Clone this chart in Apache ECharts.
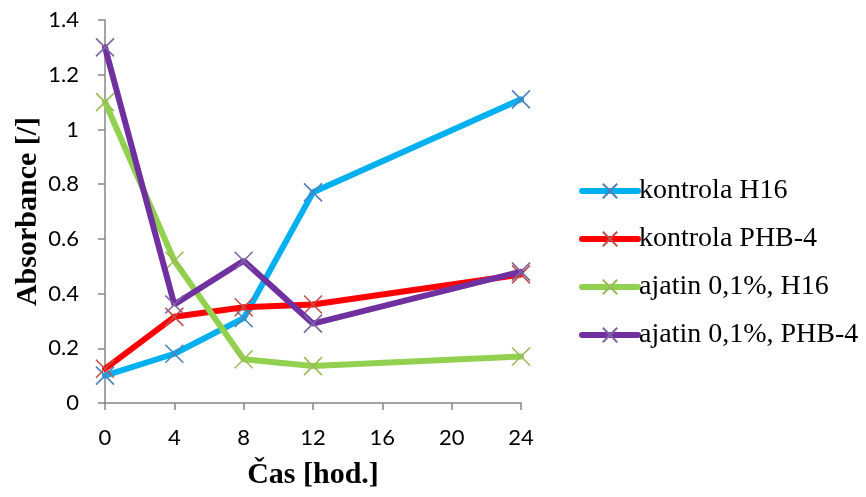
<!DOCTYPE html>
<html>
<head>
<meta charset="utf-8">
<script src="https://cdn.jsdelivr.net/npm/echarts@6/dist/echarts.min.js"></script>
<style>
  html, body { margin: 0; padding: 0; background: #fff; }
  #chart { width: 866px; height: 497px; }
</style>
</head>
<body>
<div id="chart"></div>
<script>
// Sampling times [h]
const hours = [0, 4, 8, 12, 24];

// Absorbance readings per culture
const kontrolaH16 = [0.10, 0.18, 0.31, 0.77, 1.11];
const kontrolaPHB4 = [0.125, 0.315, 0.35, 0.36, 0.47];
const ajatinH16 = [1.10, 0.52, 0.16, 0.135, 0.17];
const ajatinPHB4 = [1.30, 0.36, 0.52, 0.29, 0.48];

const seriesNames = ['kontrola H16', 'kontrola PHB-4', 'ajatin 0,1%, H16', 'ajatin 0,1%, PHB-4'];
const seriesValues = [kontrolaH16, kontrolaPHB4, ajatinH16, ajatinPHB4];
const lineColors = ['#00B0F0', '#FF0000', '#92D050', '#7030A0'];
const markerColors = ['#4F81BD', '#C0504D', '#9BBB59', '#8064A2'];

const crossSymbol = 'path://M0,0L10,10M10,0L0,10';

const chart = echarts.init(document.getElementById('chart'));

const series = seriesNames.map((name, i) => ({
  name: name,
  type: 'line',
  data: hours.map((h, j) => [h, seriesValues[i][j]]),
  symbol: crossSymbol,
  symbolSize: 18,
  showAllSymbol: true,
  lineStyle: { color: lineColors[i], width: 6, cap: 'round' },
  itemStyle: { color: 'rgba(0,0,0,0)', borderColor: markerColors[i], borderWidth: 1.6 },
  emphasis: { disabled: true },
  z: 2 + i
}));

chart.setOption({
  animation: false,
  grid: { left: 105, right: 345, top: 20, bottom: 94, containLabel: false },
  legend: {
    orient: 'vertical',
    left: 574,
    top: 172,
    itemGap: 20,
    itemWidth: 56,
    itemHeight: 18,
    lineStyle: { width: 6, cap: 'round' },
    textStyle: { fontFamily: 'Liberation Serif', fontSize: 28, lineHeight: 28, color: '#000', padding: [0, 0, 0, -4] },
    data: seriesNames
  },
  xAxis: {
    type: 'value',
    min: 0,
    max: 24,
    interval: 4,
    name: 'Čas [hod.]',
    nameLocation: 'middle',
    nameGap: 57,
    nameTextStyle: { fontFamily: 'Liberation Serif', fontWeight: 'bold', fontSize: 30, color: '#000' },
    axisLine: { lineStyle: { color: '#868686', width: 1.5 } },
    axisTick: { show: true, length: 7, lineStyle: { color: '#868686', width: 1.5 } },
    axisLabel: { fontFamily: 'Lato', fontSize: 22, color: '#000', margin: 24 },
    splitLine: { show: false }
  },
  yAxis: {
    type: 'value',
    min: 0,
    max: 1.4,
    interval: 0.2,
    name: 'Absorbance [/]',
    nameLocation: 'middle',
    nameGap: 62,
    nameTextStyle: { fontFamily: 'Liberation Serif', fontWeight: 'bold', fontSize: 30, color: '#000' },
    axisLine: { show: true, lineStyle: { color: '#868686', width: 1.5 } },
    axisTick: { show: true, length: 7, lineStyle: { color: '#868686', width: 1.5 } },
    axisLabel: { fontFamily: 'Lato', fontSize: 22, color: '#000', margin: 26 },
    splitLine: { show: false }
  },
  series: series
});
</script>
</body>
</html>
